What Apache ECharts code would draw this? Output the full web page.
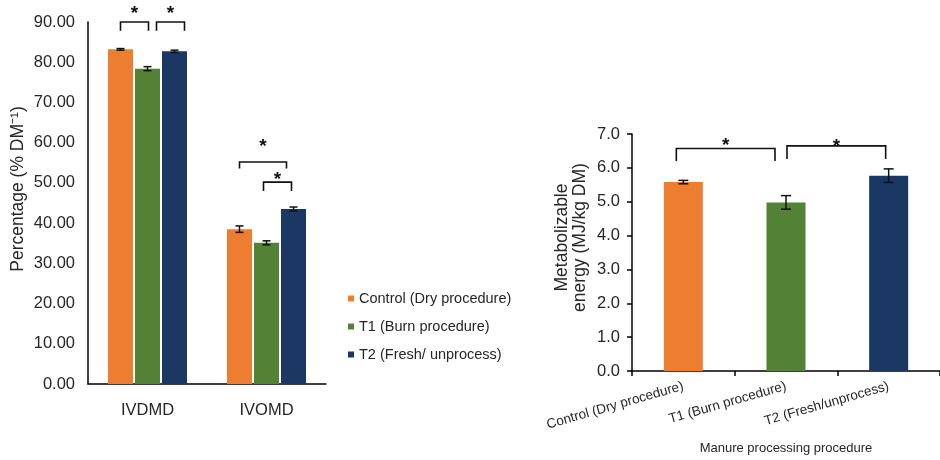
<!DOCTYPE html>
<html>
<head>
<meta charset="utf-8">
<script src="https://cdn.jsdelivr.net/npm/echarts@6/dist/echarts.min.js"></script>
<style>
html,body{margin:0;padding:0;background:#fff;}
#chart{width:940px;height:460px;}
</style>
</head>
<body>
<div id="chart"></div>
<script>
// ---------- data ----------
const categoriesLeft = ['IVDMD', 'IVOMD'];
const seriesNames = ['Control (Dry procedure)', 'T1 (Burn procedure)', 'T2 (Fresh/ unprocess)'];
const controlValues = [83.2, 38.5];
const controlErr = [0.2, 0.8];
const t1Values = [78.4, 35.1];
const t1Err = [0.5, 0.5];
const t2Values = [82.7, 43.5];
const t2Err = [0.3, 0.5];
const leftTickMin = 0, leftTickMax = 90, leftTickStep = 10;

const categoriesRight = ['Control (Dry procedure)', 'T1 (Burn procedure)', 'T2 (Fresh/unprocess)'];
const meValues = [5.58, 4.98, 5.77];
const meErr = [0.05, 0.2, 0.2];
const rightTickMin = 0, rightTickMax = 7, rightTickStep = 1;

// significance brackets: [category, fromSeries, toSeries, lineLevel, legLevel, starLevel]
const bracketsLeft = [
  [0, 0, 1, 90.0, 87.8, 93.0],
  [0, 1, 2, 90.0, 87.8, 93.0],
  [1, 0, 2, 55.2, 53.6, 59.9],
  [1, 1, 2, 50.2, 48.0, 51.7]
];
// [fromCategory, toCategory, lineLevel, legLevel, starLevel]
const bracketsRight = [
  [0, 1, 6.57, 6.2, 6.76],
  [1, 2, 6.65, 6.26, 6.74]
];

// ---------- style ----------
const FONT = 'Liberation Sans, Arial, sans-serif';
const TXT = '#262626';
const colors = ['#ED7D31', '#538135', '#1B3763'];
const LEFT_BAR_W = 25, LEFT_SLOT = 27;
const RIGHT_BAR_W = 39;
const bracketDxLeft = [[0, 1], [9, 10], [0, -7], [-3, -2]];
const bracketDxRight = [[-7, -11], [1, -3]];
const STAR_SHIFT = 4;

const leftSeriesValues = [controlValues, t1Values, t2Values];
const leftSeriesErr = [controlErr, t1Err, t2Err];

const errLeftData = [];
leftSeriesValues.forEach((vals, si) => {
  vals.forEach((v, ci) => errLeftData.push([ci, si, v, leftSeriesErr[si][ci]]));
});
const errRightData = meValues.map((v, i) => [i, 1, v, meErr[i]]);

function errRender(slot, cap) {
  return function (params, api) {
    const cat = api.value(0), si = api.value(1), v = api.value(2), e = api.value(3);
    const off = (si - 1) * slot;
    const top = api.coord([cat, v + e]);
    const bot = api.coord([cat, v - e]);
    const x = top[0] + off;
    const st = { stroke: '#111', lineWidth: 1.5 };
    return {
      type: 'group',
      children: [
        { type: 'line', shape: { x1: x, y1: top[1], x2: x, y2: bot[1] }, style: st },
        { type: 'line', shape: { x1: x - cap, y1: top[1], x2: x + cap, y2: top[1] }, style: st },
        { type: 'line', shape: { x1: x - cap, y1: bot[1], x2: x + cap, y2: bot[1] }, style: st }
      ]
    };
  };
}

function bracketGroup(xL, xR, yLine, yLeg, yStar) {
  return {
    type: 'group',
    children: [
      { type: 'polyline', shape: { points: [[xL, yLeg], [xL, yLine], [xR, yLine], [xR, yLeg]] },
        style: { stroke: '#111', lineWidth: 1.6, fill: null } },
      { type: 'text', x: (xL + xR) / 2, y: yStar + STAR_SHIFT,
        style: { text: '*', fontSize: 19, fontWeight: 'bold', fontFamily: FONT, fill: '#111', align: 'center', verticalAlign: 'middle' } }
    ]
  };
}

const chart = echarts.init(document.getElementById('chart'), null, { renderer: 'canvas' });
const axisLineStyle = { color: '#000', width: 1.5 };

const option = {
  animation: false,
  backgroundColor: '#fff',
  textStyle: { fontFamily: FONT, color: TXT },
  grid: [
    { left: 88, top: 22, width: 238, bottom: 76, containLabel: false },
    { left: 632, top: 134, width: 311, bottom: 88, containLabel: false }
  ],
  legend: {
    data: seriesNames,
    orient: 'vertical',
    left: 343,
    top: 286,
    itemWidth: 6,
    itemHeight: 6,
    itemGap: 13,
    icon: 'rect',
    textStyle: { fontSize: 14.5, color: TXT, fontFamily: FONT }
  },
  xAxis: [
    {
      gridIndex: 0, type: 'category', data: categoriesLeft,
      axisLine: { lineStyle: axisLineStyle },
      axisTick: { show: false },
      axisLabel: { fontSize: 16.5, color: TXT, margin: 18, fontFamily: FONT }
    },
    {
      gridIndex: 1, type: 'category', data: categoriesRight,
      axisLine: { lineStyle: axisLineStyle },
      axisTick: { show: true, length: 5, alignWithLabel: false, lineStyle: { color: '#000', width: 1.5 } },
      axisLabel: { rotate: 16, fontSize: 13.5, color: TXT, margin: 15, interval: 0, fontFamily: FONT },
      name: 'Manure processing procedure', nameLocation: 'middle', nameGap: 71,
      nameTextStyle: { fontSize: 13, color: TXT, fontFamily: FONT }
    }
  ],
  yAxis: [
    {
      gridIndex: 0, type: 'value', min: leftTickMin, max: leftTickMax, interval: leftTickStep,
      axisLine: { show: true, lineStyle: axisLineStyle },
      axisTick: { show: false },
      splitLine: { show: false },
      axisLabel: { formatter: v => v.toFixed(2), fontSize: 16.5, color: TXT, margin: 13, fontFamily: FONT },
      name: 'Percentage (% DM\u207B\u00B9)', nameLocation: 'middle', nameGap: 61,
      nameTextStyle: { fontSize: 17.5, color: TXT, fontFamily: FONT, padding: [0, 0, 0, 28] }
    },
    {
      gridIndex: 1, type: 'value', min: rightTickMin, max: rightTickMax, interval: rightTickStep,
      axisLine: { show: true, lineStyle: axisLineStyle },
      axisTick: { show: true, length: 5, lineStyle: { color: '#000', width: 1.5 } },
      splitLine: { show: false },
      axisLabel: { formatter: v => v.toFixed(1), fontSize: 16.5, color: TXT, margin: 12, fontFamily: FONT },
      name: 'Metabolizable\nenergy (MJ/kg DM)', nameLocation: 'middle', nameGap: 43,
      nameTextStyle: { fontSize: 17.5, lineHeight: 18, color: TXT, fontFamily: FONT, padding: [0, 0, 0, 30] }
    }
  ],
  series: [
    ...seriesNames.map((n, i) => ({
      name: n, type: 'bar', xAxisIndex: 0, yAxisIndex: 0,
      data: leftSeriesValues[i], barWidth: LEFT_BAR_W, barGap: '8%',
      itemStyle: { color: colors[i] }
    })),
    {
      name: 'ME', type: 'bar', xAxisIndex: 1, yAxisIndex: 1, barWidth: RIGHT_BAR_W,
      data: meValues.map((v, i) => ({ value: v, itemStyle: { color: colors[i] } }))
    },
    {
      type: 'custom', xAxisIndex: 0, yAxisIndex: 0, z: 10,
      renderItem: errRender(LEFT_SLOT, 4),
      encode: { x: 0, y: 2 },
      data: errLeftData
    },
    {
      type: 'custom', xAxisIndex: 1, yAxisIndex: 1, z: 10,
      renderItem: errRender(0, 5),
      encode: { x: 0, y: 2 },
      data: errRightData
    },
    {
      type: 'custom', xAxisIndex: 0, yAxisIndex: 0, z: 10,
      renderItem: function (params, api) {
        const cat = api.value(0), f = api.value(1), t = api.value(2);
        const pLine = api.coord([cat, api.value(3)]);
        const pLeg = api.coord([cat, api.value(4)]);
        const pStar = api.coord([cat, api.value(5)]);
        const dx = bracketDxLeft[params.dataIndex];
        const xL = pLine[0] + (f - 1) * LEFT_SLOT + dx[0];
        const xR = pLine[0] + (t - 1) * LEFT_SLOT + dx[1];
        return bracketGroup(xL, xR, pLine[1], pLeg[1], pStar[1]);
      },
      encode: { x: 0, y: 3 },
      data: bracketsLeft
    },
    {
      type: 'custom', xAxisIndex: 1, yAxisIndex: 1, z: 10,
      renderItem: function (params, api) {
        const a = api.coord([api.value(0), api.value(2)]);
        const b = api.coord([api.value(1), api.value(2)]);
        const leg = api.coord([api.value(0), api.value(3)]);
        const star = api.coord([api.value(0), api.value(4)]);
        const dx = bracketDxRight[params.dataIndex];
        return bracketGroup(a[0] + dx[0], b[0] + dx[1], a[1], leg[1], star[1]);
      },
      encode: { x: 0, y: 2 },
      data: bracketsRight
    }
  ]
};
chart.setOption(option);
</script>
</body>
</html>
